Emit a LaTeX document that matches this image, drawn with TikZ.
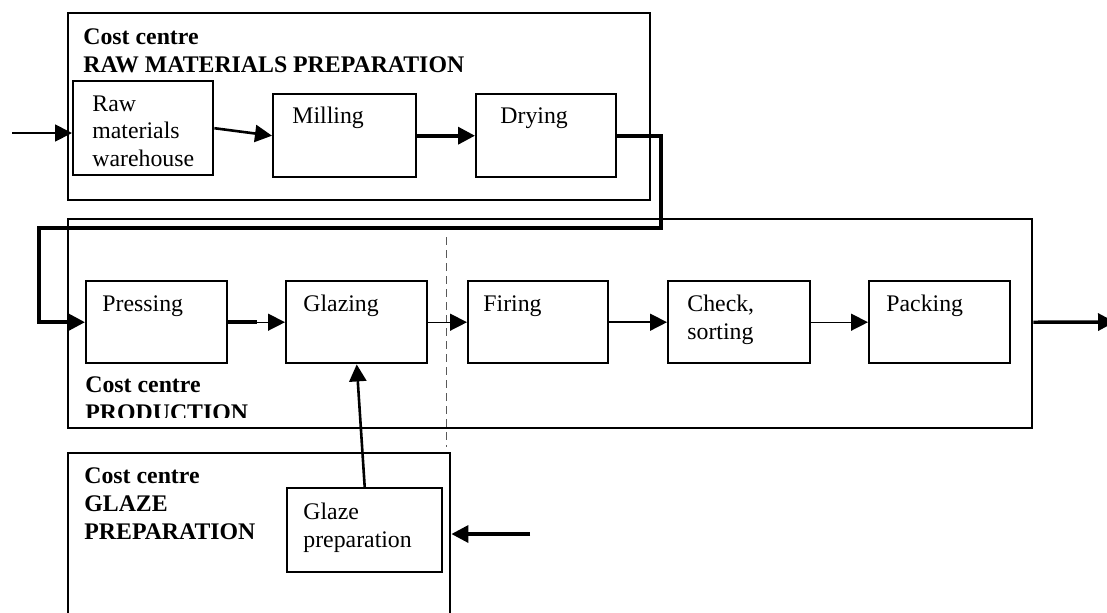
\documentclass[tikz,border=0pt]{standalone}
\usepackage{fontspec}
\setmainfont{Liberation Serif}
\usetikzlibrary{arrows.meta,positioning}

\tikzset{
  procbox/.style={draw, rectangle, line width=1.2pt, anchor=north west, inner sep=0pt},
  ccbox/.style={draw, rectangle, line width=1.2pt, anchor=north west, inner sep=0pt},
  boxtext/.style={anchor=base west, inner sep=0pt, align=left, font=\fontsize{11.9}{13.6}\selectfont},
  cctext/.style={boxtext, font=\fontsize{11.9}{13.8}\selectfont\bfseries},
  flow/.style={-{Triangle[length=8.5pt,width=8.5pt]}},
}

\begin{document}
\begin{tikzpicture}[x=0.5pt,y=-0.5pt]
    \useasboundingbox (0,0) rectangle (1107,612);
    \clip (0,0) rectangle (1107,612);

    % cost centres (labels sit on the baseline of their last line)
    \node[ccbox, minimum width=291pt, minimum height=93.5pt] (ccraw) at (67,12) {};
    \node[ccbox, minimum width=482pt, minimum height=104.5pt] (ccprod) at (67,218) {};
    \node[ccbox, minimum width=191pt, minimum height=110pt] (ccglaze) at (67,452) {};
    \node[cctext] (ccrawlbl) at (83,72) {Cost centre\\RAW MATERIALS PREPARATION};
    \begin{scope}
        \clip (70,360) rectangle (400,417);
        \node[cctext] (ccprodlbl) at (85,420) {Cost centre\\PRODUCTION};
    \end{scope}
    \node[cctext] (ccglazelbl) at (84,539) {Cost centre\\GLAZE\\PREPARATION};

    % split between glazing and firing
    \draw[black!65, line width=0.5pt, dash pattern=on 4pt off 2.5pt] (446,237) -- (446,447);

    % process steps
    \node[procbox, minimum width=70pt, minimum height=47pt] (raw) at (72,80) {};
    \node[procbox, minimum width=71.5pt, minimum height=41.5pt] (mill) at (272,93) {};
    \node[procbox, minimum width=70pt, minimum height=41.5pt] (dry) at (475,93) {};
    \node[procbox, minimum width=70.5pt, minimum height=41pt] (press) at (85,280) {};
    \node[procbox, minimum width=70.5pt, minimum height=41pt] (glazing) at (285,280) {};
    \node[procbox, minimum width=70pt, minimum height=41pt] (fire) at (467,280) {};
    \node[procbox, minimum width=71pt, minimum height=41pt] (check) at (667,280) {};
    \node[procbox, minimum width=70.5pt, minimum height=41pt] (pack) at (868,280) {};
    \node[procbox, minimum width=77.5pt, minimum height=42pt] (glzprep) at (286,487) {};

    \node[boxtext] (rawlbl) at (92,166) {Raw\\materials\\warehouse};
    \node[boxtext] (milllbl) at (292,123) {Milling};
    \node[boxtext] (drylbl) at (500,123) {Drying};
    \node[boxtext] (presslbl) at (102,311) {Pressing};
    \node[boxtext] (glazinglbl) at (303,311) {Glazing};
    \node[boxtext] (firelbl) at (483,311) {Firing};
    \node[boxtext] (checklbl) at (687,339) {Check,\\sorting};
    \node[boxtext] (packlbl) at (886,311) {Packing};
    \node[boxtext] (glzpreplbl) at (303,547) {Glaze\\preparation};

    % material flow
    \coordinate (rawin) at (12,133);
    \coordinate (loopr) at (661,228);
    \coordinate (loopl) at (39,228);
    \coordinate (out) at (1115,322);
    \coordinate (glzin) at (530,534);
    \draw[flow, line width=0.9pt] (rawin) -- (rawin -| raw.west);
    \draw[flow, line width=1.3pt] (raw.east) -- (mill.west);
    \draw[flow, line width=1.8pt] (mill.east) -- (dry.west);
    \draw[flow, line width=1.8pt] (dry.east) -| (loopr) -- (loopl) |- (press.west);
    \draw[flow, line width=0.7pt] (press.east) -- (glazing.west);
    \draw[line width=1.8pt] (press.east) -- ++(29,0);
    \draw[flow, line width=0.7pt] (glazing.east) -- (fire.west);
    \draw[flow, line width=0.8pt] (fire.east) -- (check.west);
    \draw[flow, line width=0.7pt] (check.east) -- (pack.west);
    \draw[flow, line width=1.7pt] (pack.east -| ccprod.east) -- (out);
    \draw[flow, line width=1.3pt] (glzprep.north) -- (glazing.south);
    \draw[flow, line width=1.7pt] (glzin) -- (glzin -| ccglaze.east);
\end{tikzpicture}
\end{document}
